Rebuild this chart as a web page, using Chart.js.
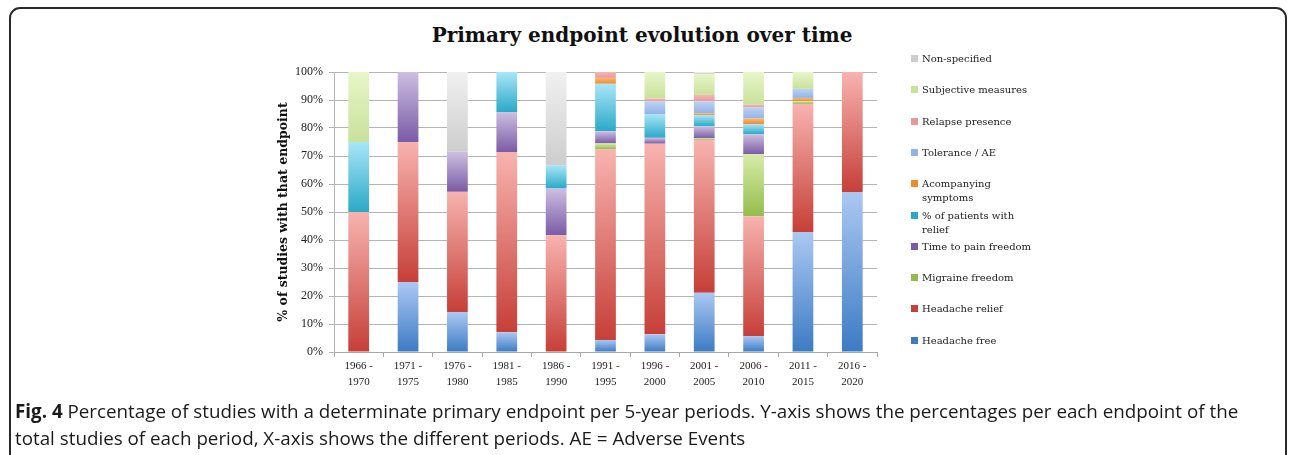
<!DOCTYPE html>
<html>
<head>
<meta charset="utf-8">
<script src="https://cdn.jsdelivr.net/npm/chart.js@4.4.1/dist/chart.umd.min.js"></script>
<style>
  body { margin: 0; width: 1292px; height: 455px; overflow: hidden; background: #fff; position: relative; }
  #frame { position: absolute; left: 9px; top: 7px; width: 1274px; height: 480px; border: 2px solid #2a2a2a; border-radius: 11px; }
  #chartBox { position: absolute; left: 0; top: 0; }
  #title { position: absolute; left: 0; top: 22px; width: 1284px; text-align: center; font-family: 'DejaVu Serif', serif; font-weight: bold; font-size: 20px; line-height: 26px; color: #111; }
  #legend { position: absolute; left: 911px; top: 0; font-family: 'DejaVu Serif', serif; font-size: 10px; color: #222; }
  .item { position: absolute; left: 0; display: flex; align-items: flex-start; width: 140px; }
  .swatch { width: 7px; height: 7px; margin-top: 3px; margin-right: 4px; flex: none; }
  .lbl { line-height: 14px; width: 112px; }
  #caption { position: absolute; left: 15px; top: 398px; width: 1270px; white-space: nowrap; font-family: 'Open Sans', sans-serif; font-size: 18.8px; line-height: 27px; color: #1a1a1a; }
  #caption b { font-weight: 700; }
</style>
</head>
<body>
<div id="frame"></div>
<div id="title">Primary endpoint evolution over time</div>
<div id="chartBox"><canvas id="grafico" width="1292" height="400"></canvas></div>
<div id="legend"></div>
<div id="caption"><b>Fig. 4</b> Percentage of studies with a determinate primary endpoint per 5-year periods. Y-axis shows the percentages per each endpoint of the<br>total studies of each period, X-axis shows the different periods. AE = Adverse Events</div>
<script>
// periods (x axis)
const periods = [
    ['1966 -', '1970'], ['1971 -', '1975'], ['1976 -', '1980'], ['1981 -', '1985'],
    ['1986 -', '1990'], ['1991 -', '1995'], ['1996 -', '2000'], ['2001 -', '2005'],
    ['2006 -', '2010'], ['2011 -', '2015'], ['2016 -', '2020']
];

// % of studies per endpoint, stacked from the bottom up
const headacheFree        = [0, 25, 14.3, 7.1, 0, 4.3, 6.3, 21.2, 5.7, 42.9, 57.1];
const headacheRelief      = [50, 50, 42.9, 64.3, 41.7, 68.1, 68.1, 54.5, 42.8, 45.7, 42.9];
const migraineFreedom     = [0, 0, 0, 0, 0, 2.1, 0, 0.6, 22.1, 1.0, 0];
const timeToPainFreedom   = [0, 25, 14.3, 14.3, 16.7, 4.3, 2.1, 4.3, 7.2, 0, 0];
const patientsWithRelief  = [25, 0, 0, 14.3, 8.3, 17.0, 8.5, 4.0, 3.6, 0, 0];
const acompanyingSymptoms = [0, 0, 0, 0, 0, 2.1, 0, 0.7, 2.0, 1.1, 0];
const toleranceAE         = [0, 0, 0, 0, 0, 0, 4.5, 4.2, 4.0, 3.3, 0];
const relapsePresence     = [0, 0, 0, 0, 0, 2.1, 1.0, 2.3, 0.9, 0, 0];
const subjectiveMeasures  = [25, 0, 0, 0, 0, 0, 9.5, 7.5, 11.7, 6.0, 0];
const nonSpecified        = [0, 0, 28.6, 0, 33.3, 0, 0, 0.7, 0, 0, 0];

const yTicks = [0, 10, 20, 30, 40, 50, 60, 70, 80, 90, 100];

const seriesNames = [
    'Headache free', 'Headache relief', 'Migraine freedom', 'Time to pain freedom',
    '% of patients with relief', 'Acompanying symptoms', 'Tolerance / AE',
    'Relapse presence', 'Subjective measures', 'Non-specified'
];
const seriesValues = [
    headacheFree, headacheRelief, migraineFreedom, timeToPainFreedom, patientsWithRelief,
    acompanyingSymptoms, toleranceAE, relapsePresence, subjectiveMeasures, nonSpecified
];

// [top colour, bottom colour] of each segment gradient
const palette = [
    ['#abc8f3', '#3c7bc3'],
    ['#f8b3af', '#c63f38'],
    ['#d7eca8', '#93bc4c'],
    ['#cdbfe1', '#7a5ba6'],
    ['#a9e6f8', '#2aa9c7'],
    ['#f9b774', '#f08a2c'],
    ['#bcd2f3', '#93b3e7'],
    ['#f6b6b4', '#e7999a'],
    ['#e8f6c9', '#c8e19b'],
    ['#f1f1f1', '#cdcdcd']
];

function segmentFill(ctx, ds) {
    const chart = ctx.chart;
    if (!chart.chartArea || ctx.type !== 'data' || !chart.scales.y) return palette[ds][1];
    const i = ctx.dataIndex;
    let base = 0;
    for (let k = 0; k < ds; k++) base += seriesValues[k][i];
    const top = base + seriesValues[ds][i];
    const y0 = chart.scales.y.getPixelForValue(base);
    const y1 = chart.scales.y.getPixelForValue(top);
    if (y0 - y1 < 0.5) return palette[ds][1];
    const g = chart.ctx.createLinearGradient(0, y1, 0, y0);
    g.addColorStop(0, palette[ds][0]);
    g.addColorStop(1, palette[ds][1]);
    return g;
}

const datasets = seriesValues.map((vals, i) => ({
    label: seriesNames[i],
    data: vals,
    backgroundColor: ctx => segmentFill(ctx, i),
    borderWidth: 0,
    barPercentage: 0.42,
    categoryPercentage: 1
}));

const serif = 'Liberation Serif';

const config = {
    type: 'bar',
    data: { labels: periods, datasets: datasets },
    options: {
        responsive: false,
        animation: false,
        layout: { padding: { left: 276, right: 415, top: 72, bottom: 2 } },
        plugins: {
            legend: { display: false },
            tooltip: { enabled: false },
            title: { display: false }
        },
        scales: {
            x: {
                stacked: true,
                grid: { drawOnChartArea: false, tickLength: 5, color: '#a8a8a8' },
                border: { color: '#a8a8a8' },
                ticks: {
                    color: '#222',
                    maxRotation: 0,
                    padding: 1,
                    font: { family: serif, size: 11, lineHeight: 1.45 }
                },
                afterFit: s => { s.height = 46; }
            },
            y: {
                stacked: true,
                min: 0,
                max: 100,
                afterBuildTicks: s => { s.ticks = yTicks.map(v => ({ value: v })); },
                grid: { color: '#b4b4b4', tickLength: 5 },
                border: { color: '#b4b4b4' },
                ticks: {
                    color: '#222',
                    padding: 6,
                    font: { family: serif, size: 12 },
                    callback: v => v + '%'
                },
                title: {
                    display: true,
                    text: '% of studies with that endpoint',
                    color: '#111',
                    font: { family: 'DejaVu Serif', size: 12.5, weight: 'bold' },
                    padding: { top: 0, bottom: 0 }
                },
                afterFit: s => { s.width = 58; }
            }
        }
    }
};

const grafico = new Chart(document.getElementById('grafico'), config);

// legend, top entry = last series
const legend = document.getElementById('legend');
for (let i = seriesNames.length - 1, row = 0; i >= 0; i--, row++) {
    const item = document.createElement('div');
    item.className = 'item';
    item.style.top = (52 + row * 31.3) + 'px';
    const sw = document.createElement('span');
    sw.className = 'swatch';
    sw.style.background = palette[i][1];
    const lbl = document.createElement('span');
    lbl.className = 'lbl';
    lbl.textContent = seriesNames[i];
    item.appendChild(sw);
    item.appendChild(lbl);
    legend.appendChild(item);
}
</script>
</body>
</html>
